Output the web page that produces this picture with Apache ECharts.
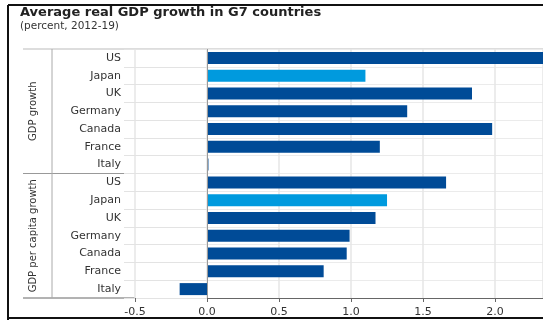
<!DOCTYPE html>
<html>
<head>
<meta charset="utf-8">
<script src="https://cdn.jsdelivr.net/npm/echarts@6/dist/echarts.min.js"></script>
<style>
  * { margin: 0; padding: 0; }
  body { background: #fff; }
</style>
</head>
<body>
<div id="main" style="width: 543px; height: 320px;"></div>
<script>
  // countries, top to bottom in each block
  var countries = ['US', 'Japan', 'UK', 'Germany', 'Canada', 'France', 'Italy']
  // average real GDP growth 2012-19, percent
  var gdpGrowth = [2.35, 1.10, 1.84, 1.39, 1.98, 1.20, 0.01]
  // average real GDP per capita growth 2012-19, percent
  var perCapitaGrowth = [1.66, 1.25, 1.17, 0.99, 0.97, 0.81, -0.19]
  var groupNames = ['GDP growth', 'GDP per capita growth']
  var xTicks = [-0.5, 0.0, 0.5, 1.0, 1.5, 2.0]
  var highlight = 'Japan'

  var dark = '#004b97'
  var light = '#009ade'
  var font = '"DejaVu Sans"'

  // 14 rows: first block then second block
  var rowKeys = []
  var rowValues = []
  countries.forEach(function (c, i) {
    rowKeys.push('a|' + c)
    rowValues.push({ value: gdpGrowth[i], itemStyle: { color: c === highlight ? light : dark } })
  })
  countries.forEach(function (c, i) {
    rowKeys.push('b|' + c)
    rowValues.push({ value: perCapitaGrowth[i], itemStyle: { color: c === highlight ? light : dark } })
  })

  var gridLeft = 135, gridTop = 49, gridH = 249
  var midY = gridTop + gridH / 2

  var chart = echarts.init(document.getElementById('main'))
  chart.setOption({
    animation: false,
    textStyle: { fontFamily: 'DejaVu Sans' },
    grid: { left: gridLeft, right: 0, top: gridTop, height: gridH },
    xAxis: {
      type: 'value',
      min: xTicks[0],
      max: 2.333,
      interval: 0.5,
      axisLine: { show: true, lineStyle: { color: '#666', width: 1 } },
      axisTick: { show: true, length: 4, lineStyle: { color: '#666' } },
      axisLabel: {
        color: '#333', fontSize: 11, margin: 9, showMaxLabel: false,
        formatter: function (v) { return v.toFixed(1) }
      },
      splitLine: { show: true, lineStyle: { color: '#e6e6e6', width: 1.5 } }
    },
    yAxis: {
      type: 'category',
      inverse: true,
      data: rowKeys,
      axisLine: { show: false },
      axisTick: { show: true, length: 83, lineStyle: { color: '#e3e3e3' } },
      axisLabel: {
        color: '#333', fontSize: 11, margin: 14,
        formatter: function (v) { return v.split('|')[1] }
      },
      splitLine: { show: true, lineStyle: { color: '#ebebeb' } }
    },
    series: [{
      type: 'bar',
      data: rowValues,
      barWidth: 12,
      markLine: {
        silent: true,
        symbol: 'none',
        label: { show: false },
        lineStyle: { color: '#999', width: 1, type: 'solid' },
        data: [{ xAxis: 0 }]
      }
    }],
    graphic: [
      { type: 'text', left: 20, top: 6, style: { text: 'Average real GDP growth in G7 countries', font: 'bold 13px ' + font, fill: '#222' } },
      { type: 'text', left: 20, top: 21, style: { text: '(percent, 2012-19)', font: '10.5px ' + font, fill: '#333' } },
      // frame
      { type: 'line', shape: { x1: 8, y1: 5, x2: 543, y2: 5 }, style: { stroke: '#111', lineWidth: 2 } },
      { type: 'line', shape: { x1: 8, y1: 5, x2: 8, y2: 320 }, style: { stroke: '#111', lineWidth: 2 } },
      { type: 'line', shape: { x1: 8, y1: 318, x2: 543, y2: 318 }, style: { stroke: '#111', lineWidth: 2 } },
      // label column rules
      { type: 'line', shape: { x1: 23, y1: gridTop, x2: 543, y2: gridTop }, style: { stroke: '#bbb', lineWidth: 1 } },
      { type: 'line', shape: { x1: 23, y1: midY, x2: 543, y2: midY }, style: { stroke: '#999', lineWidth: 1 } },
      { type: 'line', shape: { x1: 23, y1: gridTop + gridH, x2: gridLeft, y2: gridTop + gridH }, style: { stroke: '#666', lineWidth: 1 } },
      { type: 'line', shape: { x1: 52, y1: gridTop, x2: 52, y2: gridTop + gridH }, style: { stroke: '#aaa', lineWidth: 1 } },
      // group labels
      { type: 'text', x: 33, y: (gridTop + midY) / 2, rotation: Math.PI / 2,
        style: { text: groupNames[0], font: '10px ' + font, fill: '#333', align: 'center', verticalAlign: 'middle' } },
      { type: 'text', x: 33, y: (midY + gridTop + gridH) / 2, rotation: Math.PI / 2,
        style: { text: groupNames[1], font: '10px ' + font, fill: '#333', align: 'center', verticalAlign: 'middle' } }
    ]
  })
</script>
</body>
</html>
